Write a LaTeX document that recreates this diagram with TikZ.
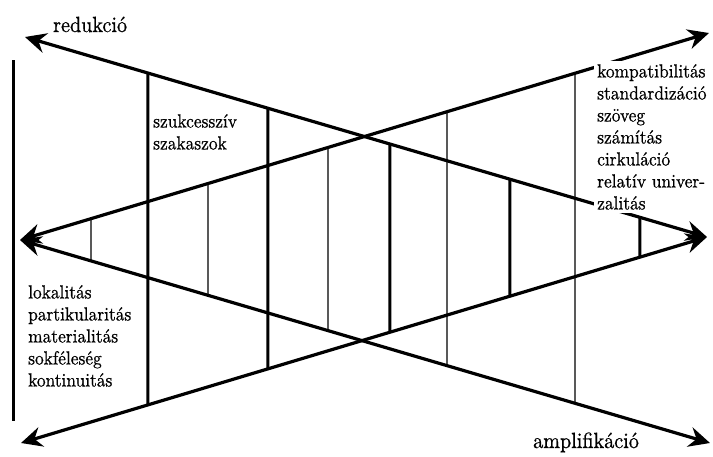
\documentclass[tikz,border=0pt]{standalone}
\usepackage{fontspec}
\setmainfont{lmroman10-regular}[Extension=.otf, FakeStretch=0.915, FakeBold=0.7]
\usetikzlibrary{arrows.meta}
\begin{document}
\begin{tikzpicture}[x=1pt,y=-1pt,
  tipx/.tip={Stealth[length=21pt,width=20pt,inset=7pt]},
  mainline/.style={line width=3.2pt, tipx-tipx},
  thickv/.style={line width=3pt},
  thinv/.style={line width=1.4pt},
  lbl/.style={font=\fontsize{19}{22}\selectfont, align=left, inner sep=3pt, anchor=north west, fill=white},
  biglbl/.style={font=\fontsize{22}{26}\selectfont, inner sep=0pt, anchor=base west}]
\useasboundingbox (0,0) rectangle (713,456);
\coordinate (UL) at (25,37);
\coordinate (UR) at (709,33);
\coordinate (LL) at (21,443);
\coordinate (LR) at (710,443);
\coordinate (VL) at (20,240);
\coordinate (VR) at (707,237);
\coordinate (BT) at (13,60);
\coordinate (BB) at (13,421);
% verticals in right-pointing triangle (thick)
\foreach \x in {148,268,390,510,640}
  \draw[thickv] (intersection cs:first line={(UL)--(VR)}, second line={(\x,0)--(\x,456)})
    -- (intersection cs:first line={(LL)--(VR)}, second line={(\x,0)--(\x,456)});
% verticals in left-pointing triangle (thin)
\foreach \x in {91,208,328,447,575}
  \draw[thinv] (intersection cs:first line={(VL)--(UR)}, second line={(\x,0)--(\x,456)})
    -- (intersection cs:first line={(VL)--(LR)}, second line={(\x,0)--(\x,456)});
% left bar
\draw[thickv] (BT) -- (BB);
% main lines
\draw[mainline] (UL) -- (VR);
\draw[mainline] (LL) -- (VR);
\draw[mainline] (VL) -- (UR);
\draw[mainline] (VL) -- (LR);
% texts
\node[biglbl] (red) at (53,32) {redukció};
\node[biglbl] (amp) at (533,448) {amplifikáció};
\node[lbl] (szuk) at (150,111) {szukcesszív\\szakaszok};
\node[lbl] (lok) at (25,282) {lokalitás\\partikularitás\\materialitás\\sokféleség\\kontinuitás};
\node[lbl] (komp) at (594,61) {kompatibilitás\\standardizáció\\szöveg\\számítás\\cirkuláció\\relatív univer-\\zalitás};
\end{tikzpicture}
\end{document}
